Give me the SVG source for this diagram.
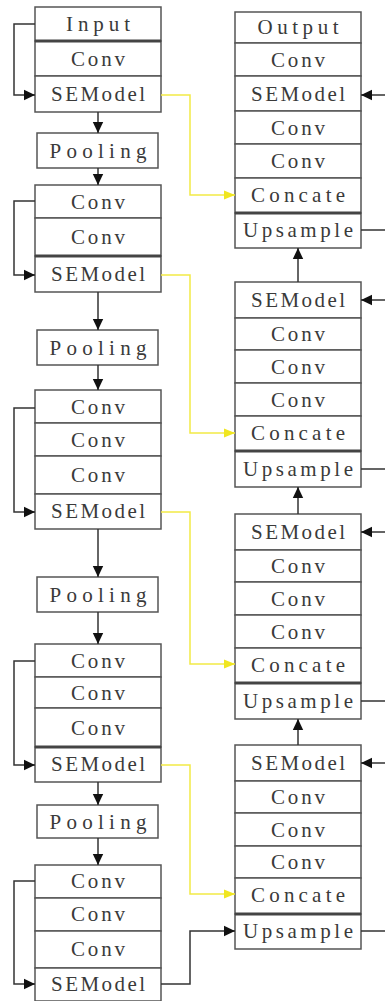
<svg xmlns="http://www.w3.org/2000/svg" width="385" height="1001" viewBox="0 0 385 1001">
<defs>
<style>
.c rect{fill:#fff;stroke:#555;stroke-width:1.5}
.c text{font-family:"Liberation Serif","DejaVu Serif",serif;font-size:21px;fill:#3a3a3a;text-anchor:middle;dominant-baseline:central}
.t4{letter-spacing:3px}
.dbl{stroke:#444;stroke-width:3}
.k{fill:none;stroke:#333;stroke-width:1.5}
.y{fill:none;stroke:#f2ea45;stroke-width:1.5}
</style>
<marker id="ak" markerUnits="userSpaceOnUse" markerWidth="12" markerHeight="12" refX="11" refY="6" orient="auto"><path d="M0,0.8 L11,6 L0,11.2 Z" fill="#111"/></marker>
<marker id="ay" markerUnits="userSpaceOnUse" markerWidth="12" markerHeight="12" refX="11" refY="6" orient="auto"><path d="M0,1.5 L11,6 L0,10.5 Z" fill="#f0e620"/></marker>
</defs>
<rect width="385" height="1001" fill="#fff"/>

<g id="left" class="c">
<g id="l-input"><rect x="35" y="7" width="126" height="34"/><text x="98" y="24" textLength="64" lengthAdjust="spacing">Input</text></g>
<g id="l-conv1"><rect x="35" y="41" width="126" height="35"/><text x="98" y="59" textLength="54" lengthAdjust="spacing">Conv</text></g>
<g id="l-se1"><rect x="35" y="76" width="126" height="36"/><text x="98" y="94" textLength="94" lengthAdjust="spacing">SEModel</text></g>
<g id="l-pool1"><rect x="37" y="133" width="121" height="35"/><text x="98" y="151" textLength="97" lengthAdjust="spacing">Pooling</text></g>
<g id="l-conv2a"><rect x="35" y="185" width="126" height="33"/><text x="98" y="202" textLength="54" lengthAdjust="spacing">Conv</text></g>
<g id="l-conv2b"><rect x="35" y="218" width="126" height="38"/><text x="98" y="237" textLength="54" lengthAdjust="spacing">Conv</text></g>
<g id="l-se2"><rect x="35" y="256" width="126" height="36"/><text x="98" y="274" textLength="94" lengthAdjust="spacing">SEModel</text></g>
<g id="l-pool2"><rect x="37" y="330" width="121" height="35"/><text x="98" y="348" textLength="97" lengthAdjust="spacing">Pooling</text></g>
<g id="l-conv3a"><rect x="35" y="390" width="126" height="33"/><text x="98" y="407" textLength="54" lengthAdjust="spacing">Conv</text></g>
<g id="l-conv3b"><rect x="35" y="423" width="126" height="33"/><text x="98" y="440" textLength="54" lengthAdjust="spacing">Conv</text></g>
<g id="l-conv3c"><rect x="35" y="456" width="126" height="38"/><text x="98" y="475" textLength="54" lengthAdjust="spacing">Conv</text></g>
<g id="l-se3"><rect x="35" y="494" width="126" height="35"/><text x="98" y="511" textLength="94" lengthAdjust="spacing">SEModel</text></g>
<g id="l-pool3"><rect x="37" y="577" width="121" height="35"/><text x="98" y="595" textLength="97" lengthAdjust="spacing">Pooling</text></g>
<g id="l-conv4a"><rect x="35" y="644" width="126" height="33"/><text x="98" y="661" textLength="54" lengthAdjust="spacing">Conv</text></g>
<g id="l-conv4b"><rect x="35" y="677" width="126" height="31"/><text x="98" y="693" textLength="54" lengthAdjust="spacing">Conv</text></g>
<g id="l-conv4c"><rect x="35" y="708" width="126" height="39"/><text x="98" y="728" textLength="54" lengthAdjust="spacing">Conv</text></g>
<g id="l-se4"><rect x="35" y="747" width="126" height="35"/><text x="98" y="764" textLength="94" lengthAdjust="spacing">SEModel</text></g>
<g id="l-pool4"><rect x="37" y="805" width="121" height="33"/><text x="98" y="822" textLength="97" lengthAdjust="spacing">Pooling</text></g>
<g id="l-conv5a"><rect x="35" y="865" width="126" height="33"/><text x="98" y="881" textLength="54" lengthAdjust="spacing">Conv</text></g>
<g id="l-conv5b"><rect x="35" y="898" width="126" height="33"/><text x="98" y="914" textLength="54" lengthAdjust="spacing">Conv</text></g>
<g id="l-conv5c"><rect x="35" y="931" width="126" height="37"/><text x="98" y="949" textLength="54" lengthAdjust="spacing">Conv</text></g>
<g id="l-se5"><rect x="35" y="968" width="126" height="33"/><text x="98" y="984" textLength="94" lengthAdjust="spacing">SEModel</text></g>
</g>

<g id="right" class="c">
<g id="r-output"><rect x="235" y="12" width="126" height="31"/><text x="298" y="27" textLength="81" lengthAdjust="spacing">Output</text></g>
<g id="r1-conv0"><rect x="235" y="43" width="126" height="33"/><text x="298" y="60" textLength="54" lengthAdjust="spacing">Conv</text></g>
<g id="r1-se"><rect x="235" y="76" width="126" height="35"/><text x="298" y="94" textLength="94" lengthAdjust="spacing">SEModel</text></g>
<g id="r1-conv1"><rect x="235" y="111" width="126" height="33"/><text x="298" y="128" textLength="54" lengthAdjust="spacing">Conv</text></g>
<g id="r1-conv2"><rect x="235" y="144" width="126" height="34"/><text x="298" y="161" textLength="54" lengthAdjust="spacing">Conv</text></g>
<g id="r1-cat"><rect x="235" y="178" width="126" height="35"/><text x="298" y="195" textLength="94" lengthAdjust="spacing">Concate</text></g>
<g id="r1-up"><rect x="235" y="213" width="126" height="35"/><text x="298" y="230" textLength="110" lengthAdjust="spacing">Upsample</text></g>

<g id="r2-se"><rect x="235" y="282" width="126" height="36"/><text x="298" y="300" textLength="94" lengthAdjust="spacing">SEModel</text></g>
<g id="r2-conv1"><rect x="235" y="318" width="126" height="32"/><text x="298" y="334" textLength="54" lengthAdjust="spacing">Conv</text></g>
<g id="r2-conv2"><rect x="235" y="350" width="126" height="33"/><text x="298" y="367" textLength="54" lengthAdjust="spacing">Conv</text></g>
<g id="r2-conv3"><rect x="235" y="383" width="126" height="33"/><text x="298" y="400" textLength="54" lengthAdjust="spacing">Conv</text></g>
<g id="r2-cat"><rect x="235" y="416" width="126" height="35"/><text x="298" y="433" textLength="94" lengthAdjust="spacing">Concate</text></g>
<g id="r2-up"><rect x="235" y="451" width="126" height="36"/><text x="298" y="469" textLength="110" lengthAdjust="spacing">Upsample</text></g>

<g id="r3-se"><rect x="235" y="514" width="126" height="36"/><text x="298" y="532" textLength="94" lengthAdjust="spacing">SEModel</text></g>
<g id="r3-conv1"><rect x="235" y="550" width="126" height="32"/><text x="298" y="566" textLength="54" lengthAdjust="spacing">Conv</text></g>
<g id="r3-conv2"><rect x="235" y="582" width="126" height="33"/><text x="298" y="599" textLength="54" lengthAdjust="spacing">Conv</text></g>
<g id="r3-conv3"><rect x="235" y="615" width="126" height="33"/><text x="298" y="632" textLength="54" lengthAdjust="spacing">Conv</text></g>
<g id="r3-cat"><rect x="235" y="648" width="126" height="35"/><text x="298" y="665" textLength="94" lengthAdjust="spacing">Concate</text></g>
<g id="r3-up"><rect x="235" y="683" width="126" height="36"/><text x="298" y="701" textLength="110" lengthAdjust="spacing">Upsample</text></g>

<g id="r4-se"><rect x="235" y="745" width="126" height="36"/><text x="298" y="763" textLength="94" lengthAdjust="spacing">SEModel</text></g>
<g id="r4-conv1"><rect x="235" y="781" width="126" height="32"/><text x="298" y="797" textLength="54" lengthAdjust="spacing">Conv</text></g>
<g id="r4-conv2"><rect x="235" y="813" width="126" height="33"/><text x="298" y="830" textLength="54" lengthAdjust="spacing">Conv</text></g>
<g id="r4-conv3"><rect x="235" y="846" width="126" height="32"/><text x="298" y="862" textLength="54" lengthAdjust="spacing">Conv</text></g>
<g id="r4-cat"><rect x="235" y="878" width="126" height="36"/><text x="298" y="895" textLength="94" lengthAdjust="spacing">Concate</text></g>
<g id="r4-up"><rect x="235" y="914" width="126" height="35"/><text x="298" y="931" textLength="110" lengthAdjust="spacing">Upsample</text></g>
</g>

<g id="separators">
<line class="dbl" x1="35" y1="41" x2="161" y2="41"/>
<line class="dbl" x1="35" y1="256" x2="161" y2="256"/>
<line class="dbl" x1="35" y1="747" x2="161" y2="747"/>
<line class="dbl" x1="235" y1="213" x2="361" y2="213"/>
<line class="dbl" x1="235" y1="451" x2="361" y2="451"/>
<line class="dbl" x1="235" y1="683" x2="361" y2="683"/>
<line class="dbl" x1="235" y1="914" x2="361" y2="914"/>
</g>

<g id="connectors">
<path class="k" d="M98,112 V133" marker-end="url(#ak)"/>
<path class="k" d="M98,168 V185" marker-end="url(#ak)"/>
<path class="k" d="M98,292 V330" marker-end="url(#ak)"/>
<path class="k" d="M98,365 V390" marker-end="url(#ak)"/>
<path class="k" d="M98,529 V577" marker-end="url(#ak)"/>
<path class="k" d="M98,612 V644" marker-end="url(#ak)"/>
<path class="k" d="M98,782 V805" marker-end="url(#ak)"/>
<path class="k" d="M98,838 V865" marker-end="url(#ak)"/>

<path class="k" d="M35,24 H14 V95 H35" marker-end="url(#ak)"/>
<path class="k" d="M35,201 H14 V275 H35" marker-end="url(#ak)"/>
<path class="k" d="M35,408 H14 V512 H35" marker-end="url(#ak)"/>
<path class="k" d="M35,661 H14 V765 H35" marker-end="url(#ak)"/>
<path class="k" d="M35,881 H14 V984 H35" marker-end="url(#ak)"/>

<path class="k" d="M161,984 H190 V931 H235" marker-end="url(#ak)"/>

<path class="k" d="M298,282 V248" marker-end="url(#ak)"/>
<path class="k" d="M298,514 V487" marker-end="url(#ak)"/>
<path class="k" d="M298,745 V719" marker-end="url(#ak)"/>

<path class="k" d="M361,230 H387 V95 H361" marker-end="url(#ak)"/>
<path class="k" d="M361,469 H387 V300 H361" marker-end="url(#ak)"/>
<path class="k" d="M361,701 H387 V532 H361" marker-end="url(#ak)"/>
<path class="k" d="M361,931 H387 V763 H361" marker-end="url(#ak)"/>

<path class="y" d="M161,95 H190 V195 H235" marker-end="url(#ay)"/>
<path class="y" d="M161,275 H190 V433 H235" marker-end="url(#ay)"/>
<path class="y" d="M161,512 H190 V664 H235" marker-end="url(#ay)"/>
<path class="y" d="M161,765 H190 V894 H235" marker-end="url(#ay)"/>
</g>
</svg>
